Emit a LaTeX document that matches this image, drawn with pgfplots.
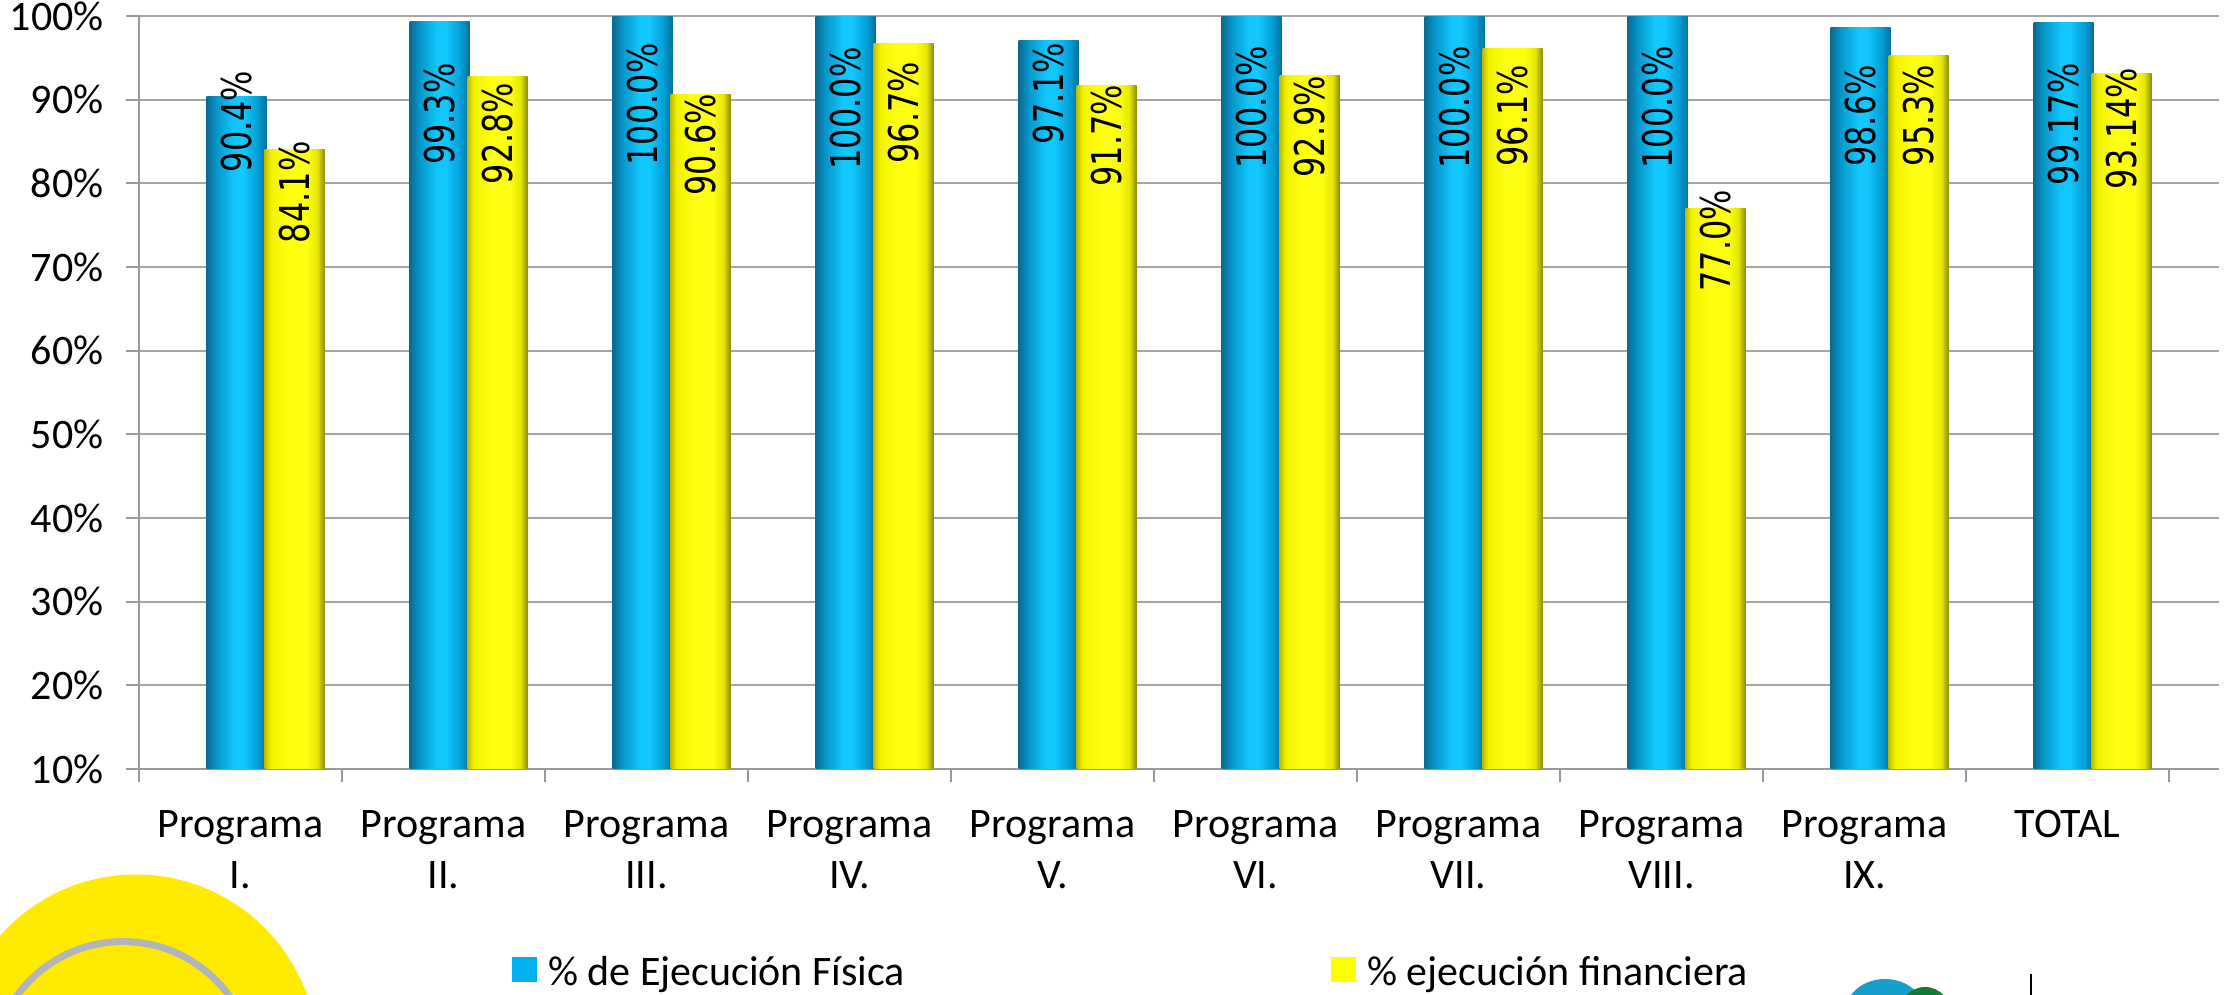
\documentclass[border=0pt]{standalone}
\usepackage{pgfplots}
\pgfplotsset{compat=1.18}
\usepackage{pgfplotstable}
\usepackage{graphicx}
\usepackage{fontspec}
\setmainfont{Carlito}
\newfontfamily\labfont{DejaVu Sans}
\definecolor{gridgray}{HTML}{A6A6A6}
\definecolor{axisgray}{HTML}{999999}
\definecolor{legblue}{HTML}{00B0F0}
\definecolor{legyellow}{HTML}{FFFF00}
\definecolor{logoyellow}{HTML}{FFEB00}
\definecolor{ringgray}{HTML}{B4B4BC}
\definecolor{logoblue}{HTML}{159FCA}
\definecolor{logogreen}{HTML}{117A35}
\definecolor{b0}{HTML}{0A6A90}
\definecolor{b1}{HTML}{0793C6}
\definecolor{b2}{HTML}{10C6FC}
\definecolor{b3}{HTML}{12C8FF}
\definecolor{b4}{HTML}{049ED6}
\definecolor{b5}{HTML}{00709C}
\definecolor{y0}{HTML}{BDBD00}
\definecolor{y1}{HTML}{F2F200}
\definecolor{y2}{HTML}{FFFF10}
\definecolor{y3}{HTML}{FFFF10}
\definecolor{y4}{HTML}{E6E600}
\definecolor{y5}{HTML}{8C8C00}
\pgfdeclarehorizontalshading{bluebar}{100bp}{color(0bp)=(b0); color(25bp)=(b0); color(32.5bp)=(b1); color(47.5bp)=(b2); color(55bp)=(b3); color(67.5bp)=(b4); color(75bp)=(b5); color(100bp)=(b5)}
\pgfdeclarehorizontalshading{yellowbar}{100bp}{color(0bp)=(y0); color(25bp)=(y0); color(30bp)=(y1); color(45bp)=(y2); color(60bp)=(y3); color(69bp)=(y4); color(75bp)=(y5); color(100bp)=(y5)}

% x: category, y: value, lab: printed label, off: label offset (pt) from bar top
\pgfplotstableread{
x y lab off
0 90.4 90.4 13
1 99.3 99.3 -20.5
2 100 100.0 -13.5
3 100 100.0 -15.5
4 97.1 97.1 -1
5 100 100.0 -15
6 100 100.0 -15
7 100 100.0 -15
8 98.6 98.6 -18.5
9 99.17 99.17 -20
}\fisica
\pgfplotstableread{
x y lab off
0 84.1 84.1 4
1 92.8 92.8 -3
2 90.6 90.6 0.5
3 96.7 96.7 -9
4 91.7 91.7 0.5
5 92.9 92.9 0
6 96.1 96.1 -8
7 77.0 77.0 9.5
8 95.3 95.3 -4.5
9 93.14 93.14 3
}\financiera

\begin{document}
\begin{tikzpicture}
\useasboundingbox (0,0) rectangle (1114pt,497.5pt);
\fill[logoyellow] (68pt,-30.5pt) circle (90.75pt);
\draw[ringgray, line width=3.5pt] (61.5pt,-38.8pt) circle (65.5pt);
\fill[logoblue] (942.5pt,-9pt) ellipse (20pt and 17pt);
\fill[logogreen] (962.5pt,-12pt) ellipse (14pt and 16pt);
\draw[black, line width=0.6pt] (1015.5pt,0pt) -- (1015.5pt,10.5pt);
\begin{axis}[
  at={(69.5pt,113pt)}, anchor=south west,
  scale only axis, width=1040pt, height=376.5pt,
  xmin=-0.5, xmax=9.7463, ymin=10, ymax=100,
  axis x line=bottom, axis y line=left,
  axis line style={-, draw=axisgray, line width=1.3pt},
  ytick={10,20,30,40,50,60,70,80,90,100},
  yticklabel={\pgfmathtruncatemacro\tk{\tick}\tk\%},
  yticklabel style={font=\fontsize{21}{25}\selectfont, inner sep=0pt, anchor=east, xshift=-11pt},
  ymajorgrids, major grid style={draw=gridgray, line width=1pt},
  xtick={-0.5,0.5,1.5,2.5,3.5,4.5,5.5,6.5,7.5,8.5,9.5},
  xticklabels={},
  extra x ticks={0,1,2,3,4,5,6,7,8,9},
  extra x tick labels={{Programa\\I.},{Programa\\II.},{Programa\\III.},{Programa\\IV.},{Programa\\V.},{Programa\\VI.},{Programa\\VII.},{Programa\\VIII.},{Programa\\IX.},{TOTAL}},
  extra x tick style={major tick length=0pt, xticklabel style={font=\fontsize{21}{25.5}\selectfont, align=center, anchor=north, inner sep=0pt, yshift=-20.5pt}},
  tick align=outside,
  major tick length=6.5pt,
  tick style={draw=axisgray, line width=1pt},
  point meta=explicit symbolic,
  visualization depends on={\thisrow{off} \as \loff},
  nodes near coords={\scalebox{0.78}[1]{\pgfplotspointmeta\%}},
  every node near coord/.append style={inner sep=0pt, font=\labfont\fontsize{20.5}{24}\selectfont, text=black},
  legend style={at={(0.17933,-0.2696)}, anchor=base west, draw=none, fill=none, inner sep=0pt,
    legend columns=2, font=\fontsize{21}{25}\selectfont,
    nodes={inner sep=0pt},
    /tikz/every odd column/.append style={column sep=5.5pt},
    /tikz/every even column/.append style={column sep=0pt}},
  legend cell align=left,
]
\pgfplotsinvokeforeach{0,...,9}{
\addplot[ybar, bar width=30pt, bar shift=-2pt, draw=none, shading=bluebar, forget plot,
  restrict x to domain=#1:#1,
  nodes near coords style={xshift=-2pt, yshift=\loff pt, rotate=90, anchor=east}]
  table[x=x, y=y, meta=lab] {\fisica};
\addplot[ybar, bar width=30pt, bar shift=27pt, draw=none, shading=yellowbar, forget plot,
  restrict x to domain=#1:#1,
  nodes near coords style={xshift=27pt, yshift=\loff pt, rotate=90, anchor=east}]
  table[x=x, y=y, meta=lab] {\financiera};
}
\addlegendimage{legend image code/.code={\fill[legblue] (0pt,-4.5pt) rectangle (12pt,7.5pt);}}
\addlegendentry{\makebox[391.5pt][l]{\% de Ejecución Física}}
\addlegendimage{legend image code/.code={\fill[legyellow] (0pt,-4.5pt) rectangle (12pt,7.5pt);}}
\addlegendentry{\% ejecución financiera}
\end{axis}
\end{tikzpicture}
\end{document}
